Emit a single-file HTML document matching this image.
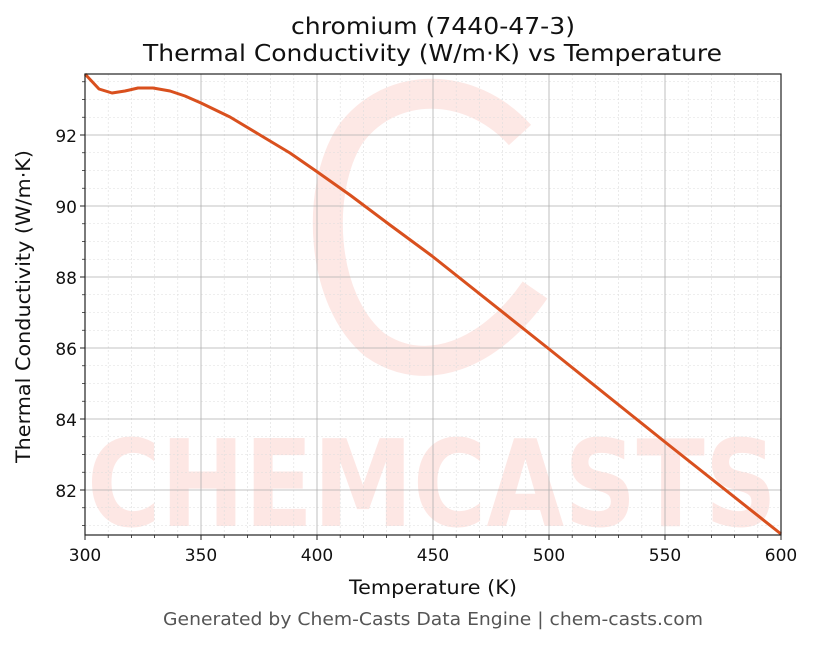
<!DOCTYPE html>
<html><head><style>body{margin:0;background:#fff}</style></head><body>
<svg width="816" height="644" xmlns="http://www.w3.org/2000/svg" font-family="DejaVu Sans, sans-serif">
<rect width="816" height="644" fill="#fff"/>
<!-- watermark -->
<g opacity="0.12" fill="none" stroke="#f0402a">
<path d="M520,135 C470,80 390,80 350,135 C315,190 320,300 375,345 C425,380 490,355 535,290" stroke-width="30"/>
</g>
<text x="432" y="526" text-anchor="middle" font-size="120" font-weight="bold" fill="#f0402a" opacity="0.12" textLength="690" lengthAdjust="spacingAndGlyphs">CHEMCASTS</text>
<!-- minor grid -->
<g stroke="#ddd" stroke-width="0.6" stroke-dasharray="2,2">
<path d="M108.2,74V535M131.4,74V535M154.6,74V535M177.8,74V535M224.2,74V535M247.4,74V535M270.6,74V535M293.8,74V535M340.2,74V535M363.4,74V535M386.6,74V535M409.8,74V535M456.2,74V535M479.4,74V535M502.6,74V535M525.8,74V535M572.2,74V535M595.4,74V535M618.6,74V535M641.8,74V535M688.2,74V535M711.4,74V535M734.6,74V535M757.8,74V535"/>
<path d="M85,525.5H781M85,507.75H781M85,472.25H781M85,454.5H781M85,436.75H781M85,401.25H781M85,383.5H781M85,365.75H781M85,330.25H781M85,312.5H781M85,294.75H781M85,259.25H781M85,241.5H781M85,223.75H781M85,188.25H781M85,170.5H781M85,152.75H781M85,117.25H781M85,99.5H781M85,81.75H781"/>
</g>
<!-- major grid -->
<g stroke="#b0b0b0" stroke-width="0.8">
<path d="M201,74V535M317,74V535M433,74V535M549,74V535M665,74V535"/>
<path d="M85,490H781M85,419H781M85,348H781M85,277H781M85,206H781M85,135H781"/>
</g>
<polyline fill="none" stroke="#d9501e" stroke-width="3" stroke-linejoin="round" points="85,74 99,89 112,93 125,91 138,88 153,88 170,91 185,96 201,103 230,117 260,135 290,153 316,171 350,195 390,225 432,256 549,349 665,442 781,534"/>
<rect x="85" y="74" width="696" height="461" fill="none" stroke="#222" stroke-width="1.2"/>
<!-- ticks -->
<g stroke="#222" stroke-width="1">
<path d="M85,535v5M201,535v5M317,535v5M433,535v5M549,535v5M665,535v5M781,535v5"/>
<path d="M85,490h-5M85,419h-5M85,348h-5M85,277h-5M85,206h-5M85,135h-5"/>
</g>
<g stroke="#222" stroke-width="0.8">
<path d="M108.2,535v3M131.4,535v3M154.6,535v3M177.8,535v3M224.2,535v3M247.4,535v3M270.6,535v3M293.8,535v3M340.2,535v3M363.4,535v3M386.6,535v3M409.8,535v3M456.2,535v3M479.4,535v3M502.6,535v3M525.8,535v3M572.2,535v3M595.4,535v3M618.6,535v3M641.8,535v3M688.2,535v3M711.4,535v3M734.6,535v3M757.8,535v3"/>
<path d="M85,525.5h-3M85,507.75h-3M85,472.25h-3M85,454.5h-3M85,436.75h-3M85,401.25h-3M85,383.5h-3M85,365.75h-3M85,330.25h-3M85,312.5h-3M85,294.75h-3M85,259.25h-3M85,241.5h-3M85,223.75h-3M85,188.25h-3M85,170.5h-3M85,152.75h-3M85,117.25h-3M85,99.5h-3M85,81.75h-3"/>
</g>
<g font-size="17" fill="#111" text-anchor="middle">
<text x="85" y="561">300</text><text x="201" y="561">350</text><text x="317" y="561">400</text><text x="433" y="561">450</text><text x="549" y="561">500</text><text x="665" y="561">550</text><text x="781" y="561">600</text>
</g>
<g font-size="17" fill="#111" text-anchor="end">
<text x="77" y="497">82</text><text x="77" y="426">84</text><text x="77" y="355">86</text><text x="77" y="284">88</text><text x="77" y="213">90</text><text x="77" y="142">92</text>
</g>
<text x="349" y="594" font-size="19.5" fill="#111" textLength="168" lengthAdjust="spacingAndGlyphs">Temperature (K)</text>
<text transform="translate(30,463) rotate(-90)" font-size="19.5" fill="#111" textLength="313" lengthAdjust="spacingAndGlyphs">Thermal Conductivity (W/m·K)</text>
<text x="291" y="34" font-size="23.5" fill="#111" textLength="284" lengthAdjust="spacingAndGlyphs">chromium (7440-47-3)</text>
<text x="143" y="61" font-size="23.5" fill="#111" textLength="579" lengthAdjust="spacingAndGlyphs">Thermal Conductivity (W/m·K) vs Temperature</text>
<text x="163" y="625" font-size="17.5" fill="#555" textLength="540" lengthAdjust="spacingAndGlyphs">Generated by Chem-Casts Data Engine | chem-casts.com</text>
</svg>
</body></html>
